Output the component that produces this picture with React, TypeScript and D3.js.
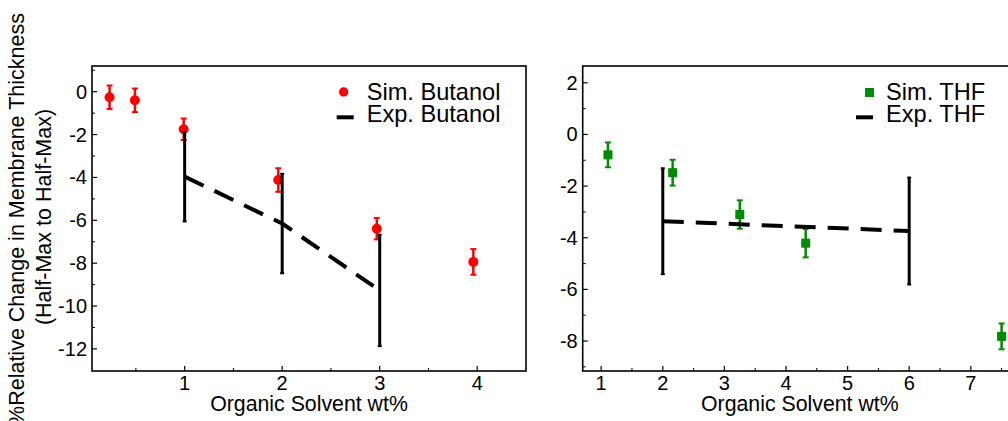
import React from 'react';
import { scaleLinear, line } from 'd3';

// butanol panel (left)
const butanolSimX = [0.23, 0.49, 0.99, 1.96, 2.97, 3.96];
const butanolSimY = [-0.26, -0.4, -1.75, -4.12, -6.39, -7.94];
const butanolSimErr = [0.55, 0.55, 0.5, 0.55, 0.5, 0.6];
const butanolExpX = [1, 2, 3];
const butanolExpY = [-3.96, -6.15, -9.27];
const butanolExpErr = [2.09, 2.32, 2.6];

// THF panel (right)
const thfSimX = [1.11, 2.16, 3.25, 4.32, 7.5];
const thfSimY = [-0.79, -1.48, -3.1, -4.21, -7.82];
const thfSimErr = [0.48, 0.5, 0.55, 0.55, 0.5];
const thfExpX = [2, 6];
const thfExpY = [-3.36, -3.74];
const thfExpErr = [2.05, 2.07];

const butanolXTicks = [1, 2, 3, 4];
const butanolXMinor = [0.5, 1.5, 2.5, 3.5];
const butanolYTicks = [0, -2, -4, -6, -8, -10, -12];
const butanolYMinor = [1, -1, -3, -5, -7, -9, -11];
const thfXTicks = [1, 2, 3, 4, 5, 6, 7];
const thfXMinor = [1.5, 2.5, 3.5, 4.5, 5.5, 6.5, 7.5];
const thfYTicks = [2, 0, -2, -4, -6, -8];
const thfYMinor = [1, -1, -3, -5, -7, -9];

const FONT = '"Liberation Sans", Arial, Helvetica, sans-serif';

type PanelProps = {
  left: number; right: number; top: number; bottom: number;
  xDomain: [number, number]; yDomain: [number, number];
  xTicks: number[]; xMinor: number[]; yTicks: number[]; yMinor: number[];
  simX: number[]; simY: number[]; simErr: number[];
  expX: number[]; expY: number[]; expErr: number[];
  color: string; marker: 'circle' | 'square';
  simLabel: string; expLabel: string; legendX: number;
};

const Panel = (p: PanelProps) => {
  const x = scaleLinear().domain(p.xDomain).range([p.left, p.right]);
  const y = scaleLinear().domain(p.yDomain).range([p.bottom, p.top]);
  const expPts = p.expX.map((d, i) => [d, p.expY[i]] as [number, number]);
  const path = line<[number, number]>().x(d => x(d[0])).y(d => y(d[1]))(expPts) || '';
  const midX = (p.left + p.right) / 2;
  return (
    <g fontFamily={FONT}>
      {/* sim points */}
      {p.simX.map((d, i) => {
        const cx = x(d), cy = y(p.simY[i]);
        const y1 = y(p.simY[i] + p.simErr[i]), y2 = y(p.simY[i] - p.simErr[i]);
        return (
          <g key={'s' + i} stroke={p.color} fill={p.color}>
            <line x1={cx} x2={cx} y1={y1} y2={y2} strokeWidth={2.5} />
            <line x1={cx - 3} x2={cx + 3} y1={y1} y2={y1} strokeWidth={2} />
            <line x1={cx - 3} x2={cx + 3} y1={y2} y2={y2} strokeWidth={2} />
            {p.marker === 'circle'
              ? <circle cx={cx} cy={cy} r={5} stroke="none" />
              : <rect x={cx - 4.5} y={cy - 4.5} width={9} height={9} stroke="none" />}
          </g>
        );
      })}
      {/* exp line + error bars */}
      <path d={path} fill="none" stroke="#000" strokeWidth={4} strokeDasharray="21,12" />
      {p.expX.map((d, i) => {
        const cx = x(d);
        const y1 = y(p.expY[i] + p.expErr[i]), y2 = y(p.expY[i] - p.expErr[i]);
        return (
          <g key={'e' + i} stroke="#000">
            <line x1={cx} x2={cx} y1={y1} y2={y2} strokeWidth={3} />
            <line x1={cx - 2} x2={cx + 2} y1={y1} y2={y1} strokeWidth={2} />
            <line x1={cx - 2} x2={cx + 2} y1={y2} y2={y2} strokeWidth={2} />
          </g>
        );
      })}
      {/* frame */}
      <rect x={p.left} y={p.top} width={p.right - p.left} height={p.bottom - p.top}
        fill="none" stroke="#000" strokeWidth={1.6} />
      {/* x ticks */}
      {p.xTicks.map(t => (
        <g key={'xt' + t}>
          <line x1={x(t)} x2={x(t)} y1={p.bottom} y2={p.bottom - 5} stroke="#000" strokeWidth={1.2} />
          <text x={x(t)} y={p.bottom + 19} fontSize={20} textAnchor="middle">{t}</text>
        </g>
      ))}
      {p.xMinor.map(t => (
        <line key={'xm' + t} x1={x(t)} x2={x(t)} y1={p.bottom} y2={p.bottom - 3} stroke="#000" strokeWidth={1} />
      ))}
      {/* y ticks */}
      {p.yTicks.map(t => (
        <g key={'yt' + t}>
          <line x1={p.left} x2={p.left + 5} y1={y(t)} y2={y(t)} stroke="#000" strokeWidth={1.2} />
          <text x={p.left - 5} y={y(t) + 7} fontSize={20} textAnchor="end">{t}</text>
        </g>
      ))}
      {p.yMinor.map(t => (
        <line key={'ym' + t} x1={p.left} x2={p.left + 3} y1={y(t)} y2={y(t)} stroke="#000" strokeWidth={1} />
      ))}
      <text x={midX} y={411} fontSize={21.3} textAnchor="middle">Organic Solvent wt%</text>
      {/* legend */}
      {p.marker === 'circle'
        ? <circle cx={p.legendX + 7} cy={92} r={4.7} fill={p.color} />
        : <rect x={p.legendX + 9} y={88} width={9} height={9} fill={p.color} />}
      <line x1={p.legendX} x2={p.legendX + 17} y1={117.3} y2={117.3} stroke="#000" strokeWidth={4} />
      <text x={p.legendX + 30} y={100} fontSize={23.6}>{p.simLabel}</text>
      <text x={p.legendX + 30} y={121.5} fontSize={23.6}>{p.expLabel}</text>
    </g>
  );
};

export default function App() {
  return (
    <svg width={1008} height={421} style={{ position: 'absolute', left: 0, top: 0, background: '#fff' }}>
      <rect width={1008} height={421} fill="#fff" />
      <g fontFamily={FONT} fontSize={21.5} textAnchor="middle">
        <text transform="translate(24,219) rotate(-90)">%Relative Change in Membrane Thickness</text>
        <text transform="translate(51,217) rotate(-90)">(Half-Max to Half-Max)</text>
      </g>
      <Panel left={92} right={526} top={66} bottom={371}
        xDomain={[0.05, 4.5]} yDomain={[-13.03, 1.2]}
        xTicks={butanolXTicks} xMinor={butanolXMinor} yTicks={butanolYTicks} yMinor={butanolYMinor}
        simX={butanolSimX} simY={butanolSimY} simErr={butanolSimErr}
        expX={butanolExpX} expY={butanolExpY} expErr={butanolExpErr}
        color="#ff0000" marker="circle" simLabel="Sim. Butanol" expLabel="Exp. Butanol" legendX={336.7} />
      <Panel left={582.7} right={1017} top={66} bottom={371}
        xDomain={[0.7, 7.75]} yDomain={[-9.16, 2.65]}
        xTicks={thfXTicks} xMinor={thfXMinor} yTicks={thfYTicks} yMinor={thfYMinor}
        simX={thfSimX} simY={thfSimY} simErr={thfSimErr}
        expX={thfExpX} expY={thfExpY} expErr={thfExpErr}
        color="#008c00" marker="square" simLabel="Sim. THF" expLabel="Exp. THF" legendX={856} />
    </svg>
  );
}
